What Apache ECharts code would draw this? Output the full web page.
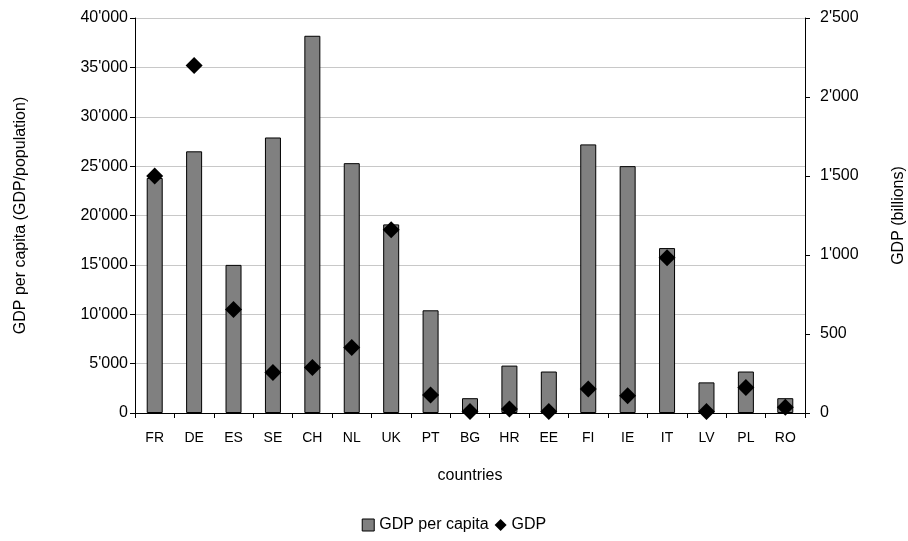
<!DOCTYPE html>
<html>
<head>
<meta charset="utf-8">
<script src="https://cdn.jsdelivr.net/npm/echarts@6/dist/echarts.min.js"></script>
<style>
  html, body { margin: 0; padding: 0; background: #fff; }
  #chart { width: 908px; height: 541px; }
</style>
</head>
<body>
<div id="chart"></div>
<script>
// Countries along the category axis
const countries = ['FR', 'DE', 'ES', 'SE', 'CH', 'NL', 'UK', 'PT', 'BG', 'HR', 'EE', 'FI', 'IE', 'IT', 'LV', 'PL', 'RO'];
// GDP per capita (GDP/population), left axis
const gdpPerCapita = [23800, 26500, 15000, 27900, 38200, 25300, 19100, 10400, 1500, 4800, 4200, 27200, 25000, 16700, 3100, 4200, 1500];
// GDP in billions, right axis
const gdpBillions = [1500, 2200, 655, 257, 288, 415, 1160, 114, 10, 25, 10, 152, 109, 983, 10, 162, 36];

const fmt = v => String(v).replace(/\B(?=(\d{3})+(?!\d))/g, "'");
const font = 'Liberation Sans, Arial, sans-serif';

const chart = echarts.init(document.getElementById('chart'), null, { renderer: 'canvas' });
chart.setOption({
  animation: false,
  textStyle: { fontFamily: font, color: '#000' },
  grid: { left: 135, right: 103, top: 18, bottom: 128, containLabel: false, outerBoundsMode: 'none' },
  legend: {
    bottom: 3,
    left: 'center',
    itemWidth: 12,
    itemHeight: 12,
    itemGap: 6,
    textStyle: { fontFamily: font, fontSize: 16, color: '#000' },
    data: [
      { name: 'GDP per capita', icon: 'rect', itemStyle: { color: '#808080', borderColor: '#000', borderWidth: 1 } },
      { name: 'GDP', icon: 'diamond', itemStyle: { color: '#000' } }
    ]
  },
  xAxis: {
    type: 'category',
    data: countries,
    boundaryGap: true,
    name: 'countries',
    nameLocation: 'middle',
    nameGap: 55,
    nameTextStyle: { fontFamily: font, fontSize: 16, color: '#000' },
    axisLine: { lineStyle: { color: '#000', width: 1 } },
    axisTick: { show: true, alignWithLabel: false, length: 5, lineStyle: { color: '#000' } },
    axisLabel: { fontFamily: font, fontSize: 14, color: '#000', margin: 18, interval: 0 }
  },
  yAxis: [
    {
      type: 'value',
      min: 0, max: 40000, interval: 5000,
      name: 'GDP per capita (GDP/population)',
      nameLocation: 'middle',
      nameGap: 106,
      nameTextStyle: { fontFamily: font, fontSize: 16, color: '#000' },
      axisLine: { show: true, lineStyle: { color: '#000' } },
      axisTick: { show: true, length: 5, lineStyle: { color: '#000' } },
      axisLabel: { fontFamily: font, fontSize: 16, color: '#000', margin: 7, formatter: fmt },
      splitLine: { show: true, lineStyle: { color: '#c8c8c8', width: 1 } }
    },
    {
      type: 'value',
      min: 0, max: 2500, interval: 500,
      position: 'right',
      name: 'GDP (billions)',
      nameLocation: 'middle',
      nameGap: 86,
      nameRotate: 90,
      nameTextStyle: { fontFamily: font, fontSize: 16, color: '#000' },
      axisLine: { show: true, lineStyle: { color: '#000' } },
      axisTick: { show: true, length: 5, lineStyle: { color: '#000' } },
      axisLabel: { fontFamily: font, fontSize: 16, color: '#000', margin: 15, formatter: fmt },
      splitLine: { show: false }
    }
  ],
  series: [
    {
      name: 'GDP per capita',
      type: 'bar',
      yAxisIndex: 0,
      data: gdpPerCapita,
      barWidth: 16,
      itemStyle: { color: '#808080', borderColor: '#000', borderWidth: 1 }
    },
    {
      name: 'GDP',
      type: 'scatter',
      yAxisIndex: 1,
      data: gdpBillions,
      symbol: 'diamond',
      symbolSize: 17,
      itemStyle: { color: '#000', opacity: 1 }
    }
  ]
});
</script>
</body>
</html>
